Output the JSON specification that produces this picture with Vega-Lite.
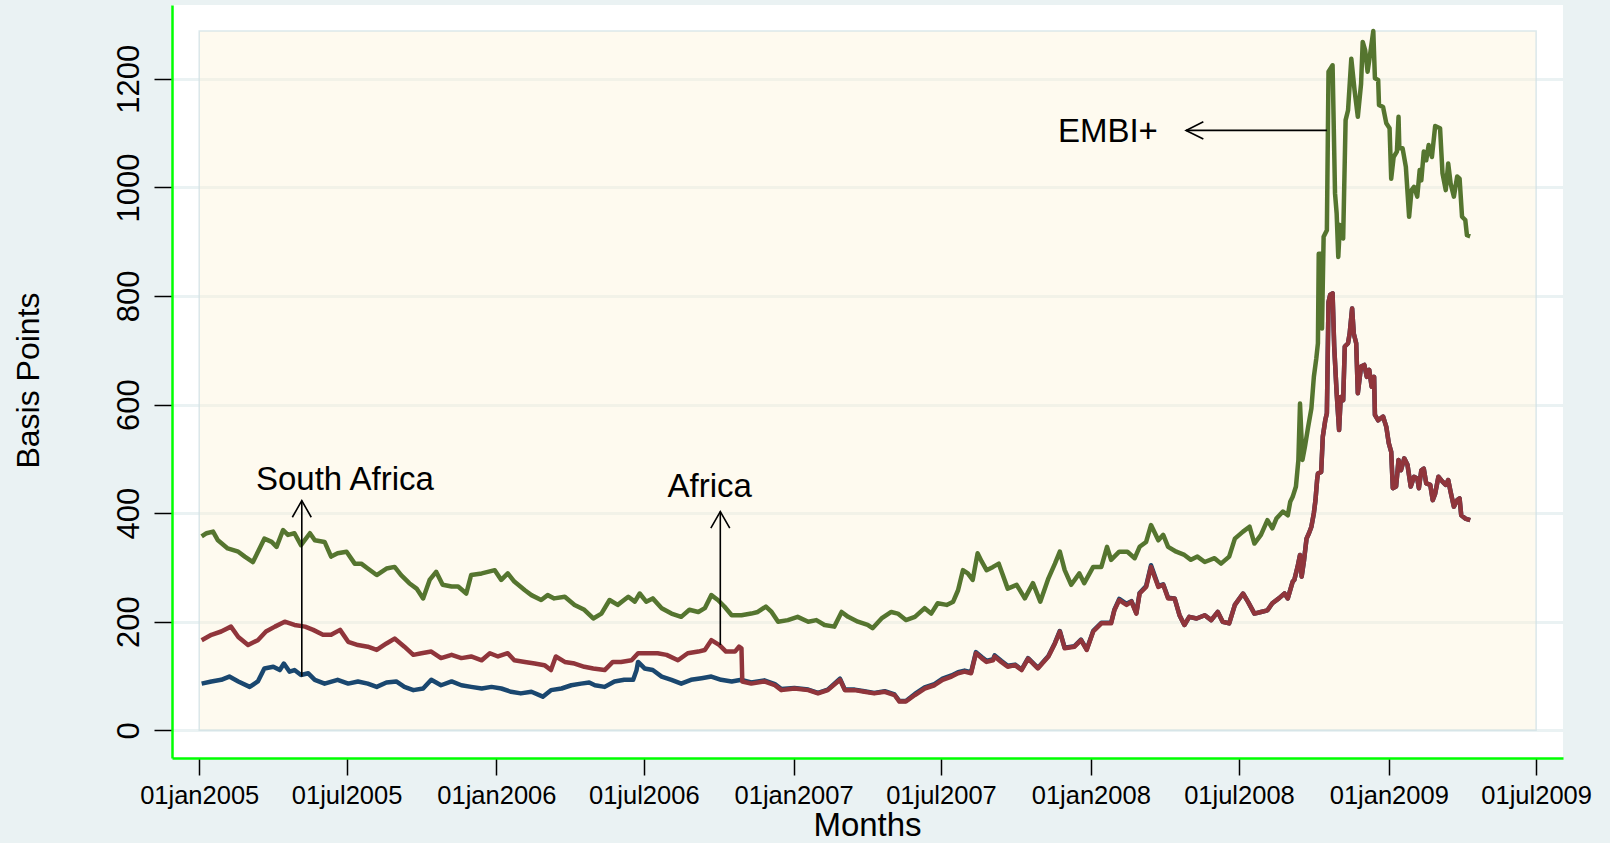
{
  "$schema": "https://vega.github.io/schema/vega-lite/v6.json",
  "width": 1391,
  "height": 753,
  "autosize": {"type": "none"},
  "padding": {"left": 172, "top": 5, "right": 47, "bottom": 85},
  "background": "#EAF2F3",
  "config": {
    "font": "Liberation Sans",
    "view": {"fill": "white", "stroke": null},
    "axis": {"labelColor": "black", "titleColor": "black", "titleFontWeight": "normal", "labelFont": "Liberation Sans", "titleFont": "Liberation Sans", "tickColor": "black", "tickWidth": 1.5, "domainColor": "#00FF00", "domainWidth": 2.5, "labelFlush": false, "labelOverlap": false, "zindex": 0}
  },
  "datasets": {
    "spreads": [
      {"s":"EMBI+","d":"2005-01-04","v":357},{"s":"EMBI+","d":"2005-01-10","v":363},{"s":"EMBI+","d":"2005-01-18","v":366},{"s":"EMBI+","d":"2005-01-24","v":350},{"s":"EMBI+","d":"2005-02-05","v":335},{"s":"EMBI+","d":"2005-02-18","v":329},{"s":"EMBI+","d":"2005-02-26","v":320},{"s":"EMBI+","d":"2005-03-08","v":310},{"s":"EMBI+","d":"2005-03-22","v":353},{"s":"EMBI+","d":"2005-03-31","v":347},{"s":"EMBI+","d":"2005-04-06","v":338},{"s":"EMBI+","d":"2005-04-14","v":369},{"s":"EMBI+","d":"2005-04-20","v":360},{"s":"EMBI+","d":"2005-04-28","v":363},{"s":"EMBI+","d":"2005-05-06","v":341},{"s":"EMBI+","d":"2005-05-17","v":363},{"s":"EMBI+","d":"2005-05-23","v":350},{"s":"EMBI+","d":"2005-06-04","v":347},{"s":"EMBI+","d":"2005-06-12","v":320},{"s":"EMBI+","d":"2005-06-20","v":326},{"s":"EMBI+","d":"2005-07-01","v":329},{"s":"EMBI+","d":"2005-07-11","v":307},{"s":"EMBI+","d":"2005-07-19","v":307},{"s":"EMBI+","d":"2005-07-27","v":298},{"s":"EMBI+","d":"2005-08-07","v":286},{"s":"EMBI+","d":"2005-08-19","v":298},{"s":"EMBI+","d":"2005-08-29","v":301},{"s":"EMBI+","d":"2005-09-06","v":286},{"s":"EMBI+","d":"2005-09-16","v":271},{"s":"EMBI+","d":"2005-09-25","v":261},{"s":"EMBI+","d":"2005-10-03","v":243},{"s":"EMBI+","d":"2005-10-11","v":277},{"s":"EMBI+","d":"2005-10-19","v":292},{"s":"EMBI+","d":"2005-10-27","v":268},{"s":"EMBI+","d":"2005-11-07","v":265},{"s":"EMBI+","d":"2005-11-15","v":265},{"s":"EMBI+","d":"2005-11-25","v":252},{"s":"EMBI+","d":"2005-12-01","v":286},{"s":"EMBI+","d":"2005-12-14","v":289},{"s":"EMBI+","d":"2005-12-30","v":295},{"s":"EMBI+","d":"2006-01-07","v":277},{"s":"EMBI+","d":"2006-01-15","v":289},{"s":"EMBI+","d":"2006-01-23","v":274},{"s":"EMBI+","d":"2006-02-05","v":258},{"s":"EMBI+","d":"2006-02-13","v":249},{"s":"EMBI+","d":"2006-02-25","v":240},{"s":"EMBI+","d":"2006-03-05","v":249},{"s":"EMBI+","d":"2006-03-13","v":243},{"s":"EMBI+","d":"2006-03-26","v":246},{"s":"EMBI+","d":"2006-04-07","v":231},{"s":"EMBI+","d":"2006-04-19","v":222},{"s":"EMBI+","d":"2006-04-30","v":206},{"s":"EMBI+","d":"2006-05-10","v":215},{"s":"EMBI+","d":"2006-05-20","v":240},{"s":"EMBI+","d":"2006-05-30","v":231},{"s":"EMBI+","d":"2006-06-12","v":246},{"s":"EMBI+","d":"2006-06-20","v":237},{"s":"EMBI+","d":"2006-06-26","v":252},{"s":"EMBI+","d":"2006-07-04","v":237},{"s":"EMBI+","d":"2006-07-12","v":243},{"s":"EMBI+","d":"2006-07-23","v":225},{"s":"EMBI+","d":"2006-08-04","v":215},{"s":"EMBI+","d":"2006-08-16","v":209},{"s":"EMBI+","d":"2006-08-26","v":222},{"s":"EMBI+","d":"2006-09-06","v":218},{"s":"EMBI+","d":"2006-09-14","v":225},{"s":"EMBI+","d":"2006-09-22","v":249},{"s":"EMBI+","d":"2006-09-30","v":240},{"s":"EMBI+","d":"2006-10-08","v":228},{"s":"EMBI+","d":"2006-10-17","v":212},{"s":"EMBI+","d":"2006-10-29","v":212},{"s":"EMBI+","d":"2006-11-10","v":215},{"s":"EMBI+","d":"2006-11-18","v":218},{"s":"EMBI+","d":"2006-11-28","v":228},{"s":"EMBI+","d":"2006-12-05","v":218},{"s":"EMBI+","d":"2006-12-13","v":200},{"s":"EMBI+","d":"2006-12-25","v":203},{"s":"EMBI+","d":"2007-01-06","v":209},{"s":"EMBI+","d":"2007-01-19","v":200},{"s":"EMBI+","d":"2007-01-29","v":203},{"s":"EMBI+","d":"2007-02-08","v":194},{"s":"EMBI+","d":"2007-02-20","v":191},{"s":"EMBI+","d":"2007-03-01","v":218},{"s":"EMBI+","d":"2007-03-09","v":209},{"s":"EMBI+","d":"2007-03-21","v":200},{"s":"EMBI+","d":"2007-04-02","v":194},{"s":"EMBI+","d":"2007-04-08","v":188},{"s":"EMBI+","d":"2007-04-19","v":206},{"s":"EMBI+","d":"2007-05-01","v":218},{"s":"EMBI+","d":"2007-05-09","v":215},{"s":"EMBI+","d":"2007-05-19","v":203},{"s":"EMBI+","d":"2007-05-30","v":209},{"s":"EMBI+","d":"2007-06-11","v":225},{"s":"EMBI+","d":"2007-06-19","v":215},{"s":"EMBI+","d":"2007-06-27","v":234},{"s":"EMBI+","d":"2007-07-08","v":231},{"s":"EMBI+","d":"2007-07-16","v":237},{"s":"EMBI+","d":"2007-07-22","v":258},{"s":"EMBI+","d":"2007-07-28","v":295},{"s":"EMBI+","d":"2007-08-03","v":289},{"s":"EMBI+","d":"2007-08-09","v":277},{"s":"EMBI+","d":"2007-08-15","v":326},{"s":"EMBI+","d":"2007-08-20","v":311},{"s":"EMBI+","d":"2007-08-26","v":295},{"s":"EMBI+","d":"2007-09-03","v":301},{"s":"EMBI+","d":"2007-09-10","v":307},{"s":"EMBI+","d":"2007-09-15","v":286},{"s":"EMBI+","d":"2007-09-21","v":261},{"s":"EMBI+","d":"2007-10-02","v":268},{"s":"EMBI+","d":"2007-10-12","v":243},{"s":"EMBI+","d":"2007-10-22","v":271},{"s":"EMBI+","d":"2007-10-31","v":237},{"s":"EMBI+","d":"2007-11-10","v":280},{"s":"EMBI+","d":"2007-11-18","v":307},{"s":"EMBI+","d":"2007-11-24","v":329},{"s":"EMBI+","d":"2007-11-30","v":295},{"s":"EMBI+","d":"2007-12-08","v":268},{"s":"EMBI+","d":"2007-12-18","v":289},{"s":"EMBI+","d":"2007-12-24","v":271},{"s":"EMBI+","d":"2008-01-04","v":301},{"s":"EMBI+","d":"2008-01-14","v":301},{"s":"EMBI+","d":"2008-01-21","v":338},{"s":"EMBI+","d":"2008-01-26","v":314},{"s":"EMBI+","d":"2008-02-05","v":329},{"s":"EMBI+","d":"2008-02-15","v":329},{"s":"EMBI+","d":"2008-02-24","v":317},{"s":"EMBI+","d":"2008-03-01","v":338},{"s":"EMBI+","d":"2008-03-09","v":347},{"s":"EMBI+","d":"2008-03-15","v":378},{"s":"EMBI+","d":"2008-03-24","v":350},{"s":"EMBI+","d":"2008-03-30","v":360},{"s":"EMBI+","d":"2008-04-05","v":338},{"s":"EMBI+","d":"2008-04-15","v":329},{"s":"EMBI+","d":"2008-04-25","v":323},{"s":"EMBI+","d":"2008-05-03","v":314},{"s":"EMBI+","d":"2008-05-11","v":320},{"s":"EMBI+","d":"2008-05-20","v":310},{"s":"EMBI+","d":"2008-06-01","v":317},{"s":"EMBI+","d":"2008-06-09","v":307},{"s":"EMBI+","d":"2008-06-19","v":320},{"s":"EMBI+","d":"2008-06-26","v":353},{"s":"EMBI+","d":"2008-07-06","v":366},{"s":"EMBI+","d":"2008-07-14","v":375},{"s":"EMBI+","d":"2008-07-20","v":344},{"s":"EMBI+","d":"2008-07-28","v":360},{"s":"EMBI+","d":"2008-08-05","v":387},{"s":"EMBI+","d":"2008-08-11","v":372},{"s":"EMBI+","d":"2008-08-16","v":390},{"s":"EMBI+","d":"2008-08-24","v":403},{"s":"EMBI+","d":"2008-08-30","v":396},{"s":"EMBI+","d":"2008-09-02","v":421},{"s":"EMBI+","d":"2008-09-05","v":430},{"s":"EMBI+","d":"2008-09-09","v":449},{"s":"EMBI+","d":"2008-09-12","v":498},{"s":"EMBI+","d":"2008-09-14","v":602},{"s":"EMBI+","d":"2008-09-17","v":498},{"s":"EMBI+","d":"2008-09-20","v":522},{"s":"EMBI+","d":"2008-09-24","v":559},{"s":"EMBI+","d":"2008-09-28","v":593},{"s":"EMBI+","d":"2008-10-01","v":651},{"s":"EMBI+","d":"2008-10-04","v":685},{"s":"EMBI+","d":"2008-10-06","v":713},{"s":"EMBI+","d":"2008-10-07","v":878},{"s":"EMBI+","d":"2008-10-10","v":878},{"s":"EMBI+","d":"2008-10-11","v":740},{"s":"EMBI+","d":"2008-10-13","v":909},{"s":"EMBI+","d":"2008-10-17","v":921},{"s":"EMBI+","d":"2008-10-19","v":1213},{"s":"EMBI+","d":"2008-10-24","v":1225},{"s":"EMBI+","d":"2008-10-27","v":989},{"s":"EMBI+","d":"2008-10-29","v":952},{"s":"EMBI+","d":"2008-10-31","v":872},{"s":"EMBI+","d":"2008-11-02","v":931},{"s":"EMBI+","d":"2008-11-06","v":906},{"s":"EMBI+","d":"2008-11-09","v":1124},{"s":"EMBI+","d":"2008-11-12","v":1142},{"s":"EMBI+","d":"2008-11-16","v":1237},{"s":"EMBI+","d":"2008-11-20","v":1179},{"s":"EMBI+","d":"2008-11-24","v":1130},{"s":"EMBI+","d":"2008-11-28","v":1191},{"s":"EMBI+","d":"2008-11-30","v":1268},{"s":"EMBI+","d":"2008-12-03","v":1253},{"s":"EMBI+","d":"2008-12-06","v":1213},{"s":"EMBI+","d":"2008-12-09","v":1244},{"s":"EMBI+","d":"2008-12-13","v":1288},{"s":"EMBI+","d":"2008-12-15","v":1201},{"s":"EMBI+","d":"2008-12-19","v":1198},{"s":"EMBI+","d":"2008-12-20","v":1152},{"s":"EMBI+","d":"2008-12-25","v":1148},{"s":"EMBI+","d":"2008-12-29","v":1118},{"s":"EMBI+","d":"2009-01-02","v":1109},{"s":"EMBI+","d":"2009-01-04","v":1016},{"s":"EMBI+","d":"2009-01-07","v":1056},{"s":"EMBI+","d":"2009-01-11","v":1066},{"s":"EMBI+","d":"2009-01-13","v":1130},{"s":"EMBI+","d":"2009-01-14","v":1072},{"s":"EMBI+","d":"2009-01-18","v":1072},{"s":"EMBI+","d":"2009-01-22","v":1038},{"s":"EMBI+","d":"2009-01-26","v":946},{"s":"EMBI+","d":"2009-01-29","v":995},{"s":"EMBI+","d":"2009-02-01","v":1001},{"s":"EMBI+","d":"2009-02-05","v":983},{"s":"EMBI+","d":"2009-02-08","v":1032},{"s":"EMBI+","d":"2009-02-10","v":1013},{"s":"EMBI+","d":"2009-02-13","v":1066},{"s":"EMBI+","d":"2009-02-16","v":1050},{"s":"EMBI+","d":"2009-02-19","v":1078},{"s":"EMBI+","d":"2009-02-23","v":1056},{"s":"EMBI+","d":"2009-02-27","v":1113},{"s":"EMBI+","d":"2009-03-05","v":1109},{"s":"EMBI+","d":"2009-03-08","v":1026},{"s":"EMBI+","d":"2009-03-12","v":995},{"s":"EMBI+","d":"2009-03-15","v":1044},{"s":"EMBI+","d":"2009-03-18","v":1007},{"s":"EMBI+","d":"2009-03-22","v":983},{"s":"EMBI+","d":"2009-03-26","v":1020},{"s":"EMBI+","d":"2009-03-29","v":1016},{"s":"EMBI+","d":"2009-04-01","v":946},{"s":"EMBI+","d":"2009-04-05","v":940},{"s":"EMBI+","d":"2009-04-07","v":912},{"s":"EMBI+","d":"2009-04-11","v":910},

      {"s":"South Africa","d":"2005-01-04","v":86},{"s":"South Africa","d":"2005-01-16","v":90},{"s":"South Africa","d":"2005-01-28","v":93},{"s":"South Africa","d":"2005-02-07","v":99},{"s":"South Africa","d":"2005-02-18","v":90},{"s":"South Africa","d":"2005-03-04","v":80},{"s":"South Africa","d":"2005-03-14","v":90},{"s":"South Africa","d":"2005-03-22","v":114},{"s":"South Africa","d":"2005-04-02","v":117},{"s":"South Africa","d":"2005-04-10","v":111},{"s":"South Africa","d":"2005-04-15","v":123},{"s":"South Africa","d":"2005-04-22","v":108},{"s":"South Africa","d":"2005-04-28","v":111},{"s":"South Africa","d":"2005-05-06","v":102},{"s":"South Africa","d":"2005-05-15","v":105},{"s":"South Africa","d":"2005-05-23","v":93},{"s":"South Africa","d":"2005-06-04","v":86},{"s":"South Africa","d":"2005-06-20","v":93},{"s":"South Africa","d":"2005-07-03","v":86},{"s":"South Africa","d":"2005-07-15","v":90},{"s":"South Africa","d":"2005-07-27","v":86},{"s":"South Africa","d":"2005-08-07","v":80},{"s":"South Africa","d":"2005-08-19","v":88},{"s":"South Africa","d":"2005-08-31","v":90},{"s":"South Africa","d":"2005-09-10","v":80},{"s":"South Africa","d":"2005-09-21","v":74},{"s":"South Africa","d":"2005-10-03","v":77},{"s":"South Africa","d":"2005-10-13","v":93},{"s":"South Africa","d":"2005-10-25","v":83},{"s":"South Africa","d":"2005-11-07","v":90},{"s":"South Africa","d":"2005-11-19","v":83},{"s":"South Africa","d":"2005-12-01","v":80},{"s":"South Africa","d":"2005-12-14","v":77},{"s":"South Africa","d":"2005-12-26","v":80},{"s":"South Africa","d":"2006-01-07","v":77},{"s":"South Africa","d":"2006-01-19","v":71},{"s":"South Africa","d":"2006-01-31","v":68},{"s":"South Africa","d":"2006-02-13","v":71},{"s":"South Africa","d":"2006-02-27","v":62},{"s":"South Africa","d":"2006-03-09","v":74},{"s":"South Africa","d":"2006-03-22","v":77},{"s":"South Africa","d":"2006-04-03","v":83},{"s":"South Africa","d":"2006-04-15","v":86},{"s":"South Africa","d":"2006-04-25","v":88},{"s":"South Africa","d":"2006-05-02","v":83},{"s":"South Africa","d":"2006-05-14","v":80},{"s":"South Africa","d":"2006-05-26","v":90},{"s":"South Africa","d":"2006-06-07","v":93},{"s":"South Africa","d":"2006-06-18","v":93},{"s":"South Africa","d":"2006-06-22","v":110},{"s":"South Africa","d":"2006-06-24","v":126},{"s":"South Africa","d":"2006-07-02","v":114},{"s":"South Africa","d":"2006-07-12","v":111},{"s":"South Africa","d":"2006-07-23","v":99},{"s":"South Africa","d":"2006-08-04","v":93},{"s":"South Africa","d":"2006-08-16","v":86},{"s":"South Africa","d":"2006-08-28","v":93},{"s":"South Africa","d":"2006-09-10","v":96},{"s":"South Africa","d":"2006-09-22","v":99},{"s":"South Africa","d":"2006-10-04","v":93},{"s":"South Africa","d":"2006-10-17","v":90},{"s":"South Africa","d":"2006-10-29","v":93},{"s":"South Africa","d":"2006-11-10","v":88},{"s":"South Africa","d":"2006-11-26","v":92},{"s":"South Africa","d":"2006-12-09","v":85},{"s":"South Africa","d":"2006-12-17","v":76},{"s":"South Africa","d":"2007-01-02","v":78},{"s":"South Africa","d":"2007-01-19","v":75},{"s":"South Africa","d":"2007-01-31","v":69},{"s":"South Africa","d":"2007-02-12","v":75},{"s":"South Africa","d":"2007-02-27","v":95},{"s":"South Africa","d":"2007-03-05","v":75},{"s":"South Africa","d":"2007-03-17","v":75},{"s":"South Africa","d":"2007-03-29","v":72},{"s":"South Africa","d":"2007-04-10","v":69},{"s":"South Africa","d":"2007-04-23","v":72},{"s":"South Africa","d":"2007-05-05","v":66},{"s":"South Africa","d":"2007-05-11","v":54},{"s":"South Africa","d":"2007-05-19","v":54},{"s":"South Africa","d":"2007-05-30","v":67},{"s":"South Africa","d":"2007-06-11","v":79},{"s":"South Africa","d":"2007-06-23","v":85},{"s":"South Africa","d":"2007-07-03","v":95},{"s":"South Africa","d":"2007-07-14","v":101},{"s":"South Africa","d":"2007-07-22","v":107},{"s":"South Africa","d":"2007-07-30","v":110},{"s":"South Africa","d":"2007-08-07","v":107},{"s":"South Africa","d":"2007-08-13","v":144},{"s":"South Africa","d":"2007-08-20","v":135},{"s":"South Africa","d":"2007-08-26","v":128},{"s":"South Africa","d":"2007-09-03","v":131},{"s":"South Africa","d":"2007-09-05","v":138},{"s":"South Africa","d":"2007-09-13","v":128},{"s":"South Africa","d":"2007-09-21","v":119},{"s":"South Africa","d":"2007-09-30","v":121},{"s":"South Africa","d":"2007-10-08","v":112},{"s":"South Africa","d":"2007-10-16","v":133},{"s":"South Africa","d":"2007-10-28","v":115},{"s":"South Africa","d":"2007-11-10","v":137},{"s":"South Africa","d":"2007-11-18","v":161},{"s":"South Africa","d":"2007-11-24","v":183},{"s":"South Africa","d":"2007-11-30","v":152},{"s":"South Africa","d":"2007-12-12","v":155},{"s":"South Africa","d":"2007-12-20","v":167},{"s":"South Africa","d":"2007-12-27","v":149},{"s":"South Africa","d":"2008-01-04","v":183},{"s":"South Africa","d":"2008-01-14","v":198},{"s":"South Africa","d":"2008-01-26","v":198},{"s":"South Africa","d":"2008-01-30","v":222},{"s":"South Africa","d":"2008-02-05","v":242},{"s":"South Africa","d":"2008-02-14","v":233},{"s":"South Africa","d":"2008-02-20","v":238},{"s":"South Africa","d":"2008-02-26","v":216},{"s":"South Africa","d":"2008-03-01","v":253},{"s":"South Africa","d":"2008-03-09","v":266},{"s":"South Africa","d":"2008-03-15","v":304},{"s":"South Africa","d":"2008-03-24","v":266},{"s":"South Africa","d":"2008-03-30","v":269},{"s":"South Africa","d":"2008-04-05","v":244},{"s":"South Africa","d":"2008-04-13","v":243},{"s":"South Africa","d":"2008-04-19","v":212},{"s":"South Africa","d":"2008-04-25","v":194},{"s":"South Africa","d":"2008-05-01","v":209},{"s":"South Africa","d":"2008-05-10","v":206},{"s":"South Africa","d":"2008-05-20","v":212},{"s":"South Africa","d":"2008-05-28","v":203},{"s":"South Africa","d":"2008-06-05","v":218},{"s":"South Africa","d":"2008-06-11","v":200},{"s":"South Africa","d":"2008-06-19","v":197},{"s":"South Africa","d":"2008-06-26","v":231},{"s":"South Africa","d":"2008-07-06","v":252},{"s":"South Africa","d":"2008-07-12","v":237},{"s":"South Africa","d":"2008-07-20","v":215},{"s":"South Africa","d":"2008-07-28","v":218},{"s":"South Africa","d":"2008-08-05","v":221},{"s":"South Africa","d":"2008-08-11","v":234},{"s":"South Africa","d":"2008-08-19","v":243},{"s":"South Africa","d":"2008-08-26","v":252},{"s":"South Africa","d":"2008-08-30","v":243},{"s":"South Africa","d":"2008-09-05","v":274},{"s":"South Africa","d":"2008-09-07","v":277},{"s":"South Africa","d":"2008-09-11","v":301},{"s":"South Africa","d":"2008-09-14","v":323},{"s":"South Africa","d":"2008-09-16","v":283},{"s":"South Africa","d":"2008-09-19","v":314},{"s":"South Africa","d":"2008-09-22","v":353},{"s":"South Africa","d":"2008-09-25","v":363},{"s":"South Africa","d":"2008-09-28","v":375},{"s":"South Africa","d":"2008-10-01","v":400},{"s":"South Africa","d":"2008-10-03","v":424},{"s":"South Africa","d":"2008-10-05","v":461},{"s":"South Africa","d":"2008-10-06","v":473},{"s":"South Africa","d":"2008-10-10","v":476},{"s":"South Africa","d":"2008-10-12","v":541},{"s":"South Africa","d":"2008-10-15","v":571},{"s":"South Africa","d":"2008-10-17","v":584},{"s":"South Africa","d":"2008-10-19","v":789},{"s":"South Africa","d":"2008-10-21","v":802},{"s":"South Africa","d":"2008-10-24","v":805},{"s":"South Africa","d":"2008-10-26","v":707},{"s":"South Africa","d":"2008-10-29","v":621},{"s":"South Africa","d":"2008-11-01","v":553},{"s":"South Africa","d":"2008-11-03","v":614},{"s":"South Africa","d":"2008-11-06","v":608},{"s":"South Africa","d":"2008-11-08","v":707},{"s":"South Africa","d":"2008-11-12","v":713},{"s":"South Africa","d":"2008-11-14","v":731},{"s":"South Africa","d":"2008-11-17","v":777},{"s":"South Africa","d":"2008-11-19","v":731},{"s":"South Africa","d":"2008-11-22","v":713},{"s":"South Africa","d":"2008-11-24","v":621},{"s":"South Africa","d":"2008-11-28","v":670},{"s":"South Africa","d":"2008-12-02","v":673},{"s":"South Africa","d":"2008-12-05","v":651},{"s":"South Africa","d":"2008-12-08","v":664},{"s":"South Africa","d":"2008-12-11","v":633},{"s":"South Africa","d":"2008-12-14","v":651},{"s":"South Africa","d":"2008-12-15","v":581},{"s":"South Africa","d":"2008-12-19","v":571},{"s":"South Africa","d":"2008-12-25","v":578},{"s":"South Africa","d":"2008-12-29","v":559},{"s":"South Africa","d":"2009-01-01","v":529},{"s":"South Africa","d":"2009-01-04","v":513},{"s":"South Africa","d":"2009-01-06","v":446},{"s":"South Africa","d":"2009-01-10","v":449},{"s":"South Africa","d":"2009-01-13","v":498},{"s":"South Africa","d":"2009-01-16","v":479},{"s":"South Africa","d":"2009-01-20","v":501},{"s":"South Africa","d":"2009-01-24","v":489},{"s":"South Africa","d":"2009-01-28","v":449},{"s":"South Africa","d":"2009-02-01","v":467},{"s":"South Africa","d":"2009-02-05","v":464},{"s":"South Africa","d":"2009-02-07","v":446},{"s":"South Africa","d":"2009-02-10","v":479},{"s":"South Africa","d":"2009-02-13","v":482},{"s":"South Africa","d":"2009-02-16","v":455},{"s":"South Africa","d":"2009-02-21","v":452},{"s":"South Africa","d":"2009-02-24","v":424},{"s":"South Africa","d":"2009-02-27","v":436},{"s":"South Africa","d":"2009-03-03","v":467},{"s":"South Africa","d":"2009-03-08","v":458},{"s":"South Africa","d":"2009-03-12","v":452},{"s":"South Africa","d":"2009-03-15","v":461},{"s":"South Africa","d":"2009-03-18","v":439},{"s":"South Africa","d":"2009-03-22","v":412},{"s":"South Africa","d":"2009-03-26","v":424},{"s":"South Africa","d":"2009-03-29","v":427},{"s":"South Africa","d":"2009-03-31","v":396},{"s":"South Africa","d":"2009-04-05","v":390},{"s":"South Africa","d":"2009-04-11","v":387},

      {"s":"Africa","d":"2005-01-04","v":166},{"s":"Africa","d":"2005-01-16","v":176},{"s":"Africa","d":"2005-01-28","v":182},{"s":"Africa","d":"2005-02-09","v":191},{"s":"Africa","d":"2005-02-18","v":172},{"s":"Africa","d":"2005-03-02","v":157},{"s":"Africa","d":"2005-03-14","v":166},{"s":"Africa","d":"2005-03-24","v":182},{"s":"Africa","d":"2005-04-04","v":191},{"s":"Africa","d":"2005-04-16","v":200},{"s":"Africa","d":"2005-04-28","v":194},{"s":"Africa","d":"2005-05-11","v":191},{"s":"Africa","d":"2005-05-21","v":185},{"s":"Africa","d":"2005-06-02","v":176},{"s":"Africa","d":"2005-06-12","v":176},{"s":"Africa","d":"2005-06-23","v":185},{"s":"Africa","d":"2005-07-03","v":163},{"s":"Africa","d":"2005-07-15","v":157},{"s":"Africa","d":"2005-07-27","v":154},{"s":"Africa","d":"2005-08-07","v":148},{"s":"Africa","d":"2005-08-19","v":160},{"s":"Africa","d":"2005-08-29","v":169},{"s":"Africa","d":"2005-09-10","v":154},{"s":"Africa","d":"2005-09-21","v":139},{"s":"Africa","d":"2005-10-01","v":142},{"s":"Africa","d":"2005-10-13","v":145},{"s":"Africa","d":"2005-10-25","v":133},{"s":"Africa","d":"2005-11-07","v":139},{"s":"Africa","d":"2005-11-19","v":133},{"s":"Africa","d":"2005-12-01","v":136},{"s":"Africa","d":"2005-12-14","v":129},{"s":"Africa","d":"2005-12-24","v":142},{"s":"Africa","d":"2006-01-03","v":136},{"s":"Africa","d":"2006-01-15","v":142},{"s":"Africa","d":"2006-01-23","v":129},{"s":"Africa","d":"2006-02-05","v":126},{"s":"Africa","d":"2006-02-17","v":123},{"s":"Africa","d":"2006-03-01","v":120},{"s":"Africa","d":"2006-03-09","v":111},{"s":"Africa","d":"2006-03-15","v":136},{"s":"Africa","d":"2006-03-26","v":126},{"s":"Africa","d":"2006-04-07","v":123},{"s":"Africa","d":"2006-04-19","v":117},{"s":"Africa","d":"2006-04-30","v":114},{"s":"Africa","d":"2006-05-14","v":111},{"s":"Africa","d":"2006-05-24","v":126},{"s":"Africa","d":"2006-06-03","v":126},{"s":"Africa","d":"2006-06-16","v":129},{"s":"Africa","d":"2006-06-24","v":142},{"s":"Africa","d":"2006-07-06","v":142},{"s":"Africa","d":"2006-07-18","v":142},{"s":"Africa","d":"2006-07-29","v":139},{"s":"Africa","d":"2006-08-12","v":129},{"s":"Africa","d":"2006-08-24","v":142},{"s":"Africa","d":"2006-09-06","v":145},{"s":"Africa","d":"2006-09-14","v":148},{"s":"Africa","d":"2006-09-22","v":166},{"s":"Africa","d":"2006-10-02","v":157},{"s":"Africa","d":"2006-10-10","v":145},{"s":"Africa","d":"2006-10-21","v":145},{"s":"Africa","d":"2006-10-26","v":154},{"s":"Africa","d":"2006-10-29","v":151},{"s":"Africa","d":"2006-10-30","v":90},{"s":"Africa","d":"2006-11-10","v":86},{"s":"Africa","d":"2006-11-26","v":90},{"s":"Africa","d":"2006-12-09","v":83},{"s":"Africa","d":"2006-12-17","v":74},{"s":"Africa","d":"2007-01-02","v":77},{"s":"Africa","d":"2007-01-19","v":74},{"s":"Africa","d":"2007-01-31","v":68},{"s":"Africa","d":"2007-02-12","v":74},{"s":"Africa","d":"2007-02-27","v":93},{"s":"Africa","d":"2007-03-05","v":74},{"s":"Africa","d":"2007-03-17","v":74},{"s":"Africa","d":"2007-03-29","v":71},{"s":"Africa","d":"2007-04-10","v":68},{"s":"Africa","d":"2007-04-23","v":71},{"s":"Africa","d":"2007-05-05","v":65},{"s":"Africa","d":"2007-05-11","v":53},{"s":"Africa","d":"2007-05-19","v":53},{"s":"Africa","d":"2007-05-30","v":65},{"s":"Africa","d":"2007-06-11","v":77},{"s":"Africa","d":"2007-06-23","v":83},{"s":"Africa","d":"2007-07-03","v":93},{"s":"Africa","d":"2007-07-14","v":99},{"s":"Africa","d":"2007-07-22","v":105},{"s":"Africa","d":"2007-07-30","v":108},{"s":"Africa","d":"2007-08-07","v":105},{"s":"Africa","d":"2007-08-13","v":142},{"s":"Africa","d":"2007-08-20","v":133},{"s":"Africa","d":"2007-08-26","v":126},{"s":"Africa","d":"2007-09-03","v":129},{"s":"Africa","d":"2007-09-05","v":136},{"s":"Africa","d":"2007-09-13","v":126},{"s":"Africa","d":"2007-09-21","v":117},{"s":"Africa","d":"2007-09-30","v":120},{"s":"Africa","d":"2007-10-08","v":111},{"s":"Africa","d":"2007-10-16","v":132},{"s":"Africa","d":"2007-10-28","v":114},{"s":"Africa","d":"2007-11-10","v":136},{"s":"Africa","d":"2007-11-18","v":160},{"s":"Africa","d":"2007-11-24","v":182},{"s":"Africa","d":"2007-11-30","v":151},{"s":"Africa","d":"2007-12-12","v":154},{"s":"Africa","d":"2007-12-20","v":166},{"s":"Africa","d":"2007-12-27","v":148},{"s":"Africa","d":"2008-01-04","v":182},{"s":"Africa","d":"2008-01-14","v":197},{"s":"Africa","d":"2008-01-26","v":197},{"s":"Africa","d":"2008-01-30","v":221},{"s":"Africa","d":"2008-02-05","v":240},{"s":"Africa","d":"2008-02-14","v":231},{"s":"Africa","d":"2008-02-20","v":237},{"s":"Africa","d":"2008-02-26","v":215},{"s":"Africa","d":"2008-03-01","v":252},{"s":"Africa","d":"2008-03-09","v":264},{"s":"Africa","d":"2008-03-15","v":301},{"s":"Africa","d":"2008-03-24","v":264},{"s":"Africa","d":"2008-03-30","v":268},{"s":"Africa","d":"2008-04-05","v":243},{"s":"Africa","d":"2008-04-13","v":243},{"s":"Africa","d":"2008-04-19","v":212},{"s":"Africa","d":"2008-04-25","v":194},{"s":"Africa","d":"2008-05-01","v":209},{"s":"Africa","d":"2008-05-10","v":206},{"s":"Africa","d":"2008-05-20","v":212},{"s":"Africa","d":"2008-05-28","v":203},{"s":"Africa","d":"2008-06-05","v":218},{"s":"Africa","d":"2008-06-11","v":200},{"s":"Africa","d":"2008-06-19","v":197},{"s":"Africa","d":"2008-06-26","v":231},{"s":"Africa","d":"2008-07-06","v":252},{"s":"Africa","d":"2008-07-12","v":237},{"s":"Africa","d":"2008-07-20","v":215},{"s":"Africa","d":"2008-07-28","v":218},{"s":"Africa","d":"2008-08-05","v":221},{"s":"Africa","d":"2008-08-11","v":234},{"s":"Africa","d":"2008-08-19","v":243},{"s":"Africa","d":"2008-08-26","v":252},{"s":"Africa","d":"2008-08-30","v":243},{"s":"Africa","d":"2008-09-05","v":274},{"s":"Africa","d":"2008-09-07","v":277},{"s":"Africa","d":"2008-09-11","v":301},{"s":"Africa","d":"2008-09-14","v":323},{"s":"Africa","d":"2008-09-16","v":283},{"s":"Africa","d":"2008-09-19","v":314},{"s":"Africa","d":"2008-09-22","v":353},{"s":"Africa","d":"2008-09-25","v":363},{"s":"Africa","d":"2008-09-28","v":375},{"s":"Africa","d":"2008-10-01","v":400},{"s":"Africa","d":"2008-10-03","v":424},{"s":"Africa","d":"2008-10-05","v":461},{"s":"Africa","d":"2008-10-06","v":473},{"s":"Africa","d":"2008-10-10","v":476},{"s":"Africa","d":"2008-10-12","v":541},{"s":"Africa","d":"2008-10-15","v":571},{"s":"Africa","d":"2008-10-17","v":584},{"s":"Africa","d":"2008-10-19","v":789},{"s":"Africa","d":"2008-10-21","v":802},{"s":"Africa","d":"2008-10-24","v":805},{"s":"Africa","d":"2008-10-26","v":707},{"s":"Africa","d":"2008-10-29","v":621},{"s":"Africa","d":"2008-11-01","v":553},{"s":"Africa","d":"2008-11-03","v":614},{"s":"Africa","d":"2008-11-06","v":608},{"s":"Africa","d":"2008-11-08","v":707},{"s":"Africa","d":"2008-11-12","v":713},{"s":"Africa","d":"2008-11-14","v":731},{"s":"Africa","d":"2008-11-17","v":777},{"s":"Africa","d":"2008-11-19","v":731},{"s":"Africa","d":"2008-11-22","v":713},{"s":"Africa","d":"2008-11-24","v":621},{"s":"Africa","d":"2008-11-28","v":670},{"s":"Africa","d":"2008-12-02","v":673},{"s":"Africa","d":"2008-12-05","v":651},{"s":"Africa","d":"2008-12-08","v":664},{"s":"Africa","d":"2008-12-11","v":633},{"s":"Africa","d":"2008-12-14","v":651},{"s":"Africa","d":"2008-12-15","v":581},{"s":"Africa","d":"2008-12-19","v":571},{"s":"Africa","d":"2008-12-25","v":578},{"s":"Africa","d":"2008-12-29","v":559},{"s":"Africa","d":"2009-01-01","v":529},{"s":"Africa","d":"2009-01-04","v":513},{"s":"Africa","d":"2009-01-06","v":446},{"s":"Africa","d":"2009-01-10","v":449},{"s":"Africa","d":"2009-01-13","v":498},{"s":"Africa","d":"2009-01-16","v":479},{"s":"Africa","d":"2009-01-20","v":501},{"s":"Africa","d":"2009-01-24","v":489},{"s":"Africa","d":"2009-01-28","v":449},{"s":"Africa","d":"2009-02-01","v":467},{"s":"Africa","d":"2009-02-05","v":464},{"s":"Africa","d":"2009-02-07","v":446},{"s":"Africa","d":"2009-02-10","v":479},{"s":"Africa","d":"2009-02-13","v":482},{"s":"Africa","d":"2009-02-16","v":455},{"s":"Africa","d":"2009-02-21","v":452},{"s":"Africa","d":"2009-02-24","v":424},{"s":"Africa","d":"2009-02-27","v":436},{"s":"Africa","d":"2009-03-03","v":467},{"s":"Africa","d":"2009-03-08","v":458},{"s":"Africa","d":"2009-03-12","v":452},{"s":"Africa","d":"2009-03-15","v":461},{"s":"Africa","d":"2009-03-18","v":439},{"s":"Africa","d":"2009-03-22","v":412},{"s":"Africa","d":"2009-03-26","v":424},{"s":"Africa","d":"2009-03-29","v":427},{"s":"Africa","d":"2009-03-31","v":396},{"s":"Africa","d":"2009-04-05","v":390},{"s":"Africa","d":"2009-04-11","v":387}
    ],
    "notes": [
      {"label": "South Africa", "d": "2005-06-29", "v": 442},
      {"label": "Africa", "d": "2006-09-20", "v": 430},
      {"label": "EMBI+", "d": "2008-01-22", "v": 1084}
    ],
    "arrows": [
      {"name": "South Africa", "d": "2005-05-07", "v": 423, "d2": "2005-05-07", "v2": 99, "dir": "up"},
      {"name": "Africa", "d": "2006-10-03", "v": 403, "d2": "2006-10-03", "v2": 157, "dir": "up"},
      {"name": "EMBI+", "d": "2008-04-27", "v": 1105, "d2": "2008-10-17", "v2": 1105, "dir": "left"}
    ],
    "region": [
      {"from": "2005-01-01", "to": "2009-07-01", "lo": 0}
    ]
  },
  "encoding": {
    "x": {
      "field": "d", "type": "temporal", "title": "Months",
      "scale": {"type": "utc", "domain": [{"year": 2004, "month": 11, "date": 28, "hours": 14, "utc": true}, {"year": 2009, "month": 8, "date": 3, "utc": true}]},
      "axis": {
        "values": [{"year":2005,"month":1,"date":1,"utc":true},{"year":2005,"month":7,"date":1,"utc":true},{"year":2006,"month":1,"date":1,"utc":true},{"year":2006,"month":7,"date":1,"utc":true},{"year":2007,"month":1,"date":1,"utc":true},{"year":2007,"month":7,"date":1,"utc":true},{"year":2008,"month":1,"date":1,"utc":true},{"year":2008,"month":7,"date":1,"utc":true},{"year":2009,"month":1,"date":1,"utc":true},{"year":2009,"month":7,"date":1,"utc":true}],
        "labelExpr": "lower(utcFormat(datum.value, '%d%b%Y'))",
        "grid": false, "tickSize": 17, "labelFontSize": 25.5, "labelPadding": 8,
        "titleFontSize": 33, "titleX": 695, "titleY": 77, "titleAlign": "center", "titleBaseline": "alphabetic", "titleAnchor": null
      }
    },
    "y": {
      "field": "v", "type": "quantitative", "title": "Basis Points",
      "scale": {"domain": [-51, 1336], "nice": false, "zero": false},
      "axis": {
        "values": [0, 200, 400, 600, 800, 1000, 1200], "format": "d",
        "grid": true, "gridColor": "#EAF2F3", "gridWidth": 3,
        "tickSize": 18, "labelFontSize": 31, "labelAngle": 270, "labelAlign": "center", "labelBaseline": "alphabetic", "labelPadding": 16,
        "titleFontSize": 32, "titleAngle": 270, "titleX": -134, "titleY": 375, "titleAlign": "center", "titleBaseline": "alphabetic", "titleAnchor": null
      }
    }
  },
  "layer": [
    {
      "data": {"name": "region"},
      "mark": {"type": "rect", "fill": "#FCF3D8", "fillOpacity": 0.42, "stroke": "#D2E2E6", "strokeOpacity": 0.8, "strokeWidth": 1.5},
      "encoding": {
        "x": {"field": "from", "type": "temporal", "title": "Months"},
        "x2": {"field": "to"},
        "y": {"field": "lo", "type": "quantitative", "title": "Basis Points"},
        "y2": {"datum": 1288}
      }
    },
    {
      "data": {"name": "spreads"},
      "transform": [{"filter": "datum.s === 'EMBI+'"}],
      "mark": {"type": "line", "color": "#55752F", "strokeWidth": 4.5, "strokeJoin": "round"}
    },
    {
      "data": {"name": "spreads"},
      "transform": [{"filter": "datum.s === 'South Africa'"}],
      "mark": {"type": "line", "color": "#1A476F", "strokeWidth": 4.5, "strokeJoin": "round"}
    },
    {
      "data": {"name": "spreads"},
      "transform": [{"filter": "datum.s === 'Africa'"}],
      "mark": {"type": "line", "color": "#90353B", "strokeWidth": 4.5, "strokeJoin": "round"}
    },
    {
      "data": {"name": "arrows"},
      "mark": {"type": "rule", "color": "black", "strokeWidth": 1.6},
      "encoding": {
        "x2": {"field": "d2"},
        "y2": {"field": "v2"}
      }
    },
    {
      "data": {"name": "arrows"},
      "transform": [{"filter": "datum.dir === 'up'"}],
      "mark": {"type": "point", "shape": "M-0.57,1L0,0L0.57,1", "size": 1102, "filled": false, "color": "black", "strokeWidth": 1.6, "opacity": 1, "angle": 0}
    },
    {
      "data": {"name": "arrows"},
      "transform": [{"filter": "datum.dir === 'left'"}],
      "mark": {"type": "point", "shape": "M-0.5,1L0,0L0.5,1", "size": 1200, "filled": false, "color": "black", "strokeWidth": 1.6, "opacity": 1, "angle": 270}
    },
    {
      "data": {"name": "notes"},
      "mark": {"type": "text", "fontSize": 33, "align": "center", "baseline": "alphabetic", "color": "black"},
      "encoding": {"text": {"field": "label"}}
    }
  ]
}
